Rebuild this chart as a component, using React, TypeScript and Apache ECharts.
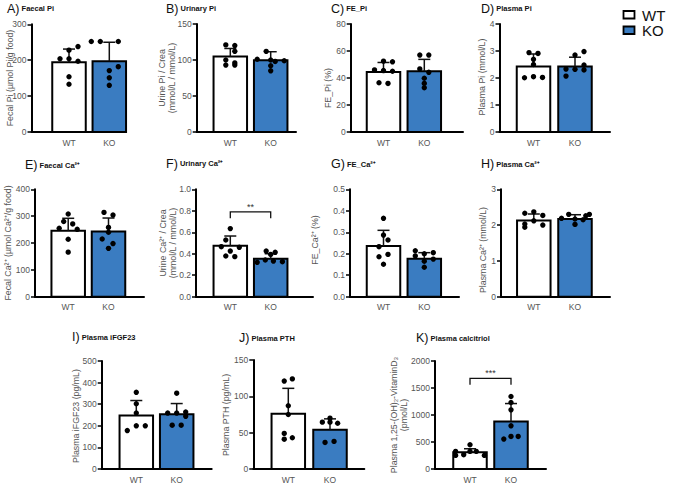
import React, { useEffect, useRef } from 'react';
import * as echarts from 'echarts';

// ---------------- DATA ----------------
const categories = ['WT', 'KO'];

// A) Faecal Pi
const faecalPiMean = [194, 197];
const faecalPiSD = [37, 53];
const faecalPiWT = [238, 228, 204, 204, 197, 154, 133];
const faecalPiKO = [252, 252, 252, 182, 171, 151, 130];
const faecalPiTicks = [0, 100, 200, 300];

// B) Urinary Pi
const urinaryPiMean = [105, 99.5];
const urinaryPiSD = [11, 12];
const urinaryPiWT = [121, 120, 112, 100, 96, 93, 93];
const urinaryPiKO = [112, 101, 100, 99, 98, 92, 85];
const urinaryPiTicks = [0, 50, 100, 150];

// C) FE_Pi
const fePiMean = [44.5, 45];
const fePiSD = [7, 8.8];
const fePiWT = [52.5, 52, 46, 45.5, 45, 36.5, 36];
const fePiKO = [57, 57, 46.7, 44.2, 39.8, 36, 32.8];
const fePiTicks = [0, 20, 40, 60, 80];

// D) Plasma Pi
const plasmaPiMean = [2.43, 2.43];
const plasmaPiSD = [0.46, 0.34];
const plasmaPiWT = [2.94, 2.91, 2.69, 2.5, 2.01, 2.05, 2.02];
const plasmaPiKO = [2.98, 2.85, 2.48, 2.33, 2.32, 2.3, 2.07];
const plasmaPiTicks = [0, 1, 2, 3, 4];

// E) Faecal Ca2+
const faecalCaMean = [246, 243];
const faecalCaSD = [46, 50];
const faecalCaWT = [308, 280, 271, 255, 251, 214, 166];
const faecalCaKO = [314, 304, 258, 240, 215, 198, 180];
const faecalCaTicks = [0, 100, 200, 300, 400];

// F) Urinary Ca2+
const urinaryCaMean = [0.475, 0.354];
const urinaryCaSD = [0.09, 0.046];
const urinaryCaWT = [0.634, 0.528, 0.466, 0.46, 0.425, 0.379, 0.373];
const urinaryCaKO = [0.425, 0.413, 0.394, 0.342, 0.332, 0.326, 0.32];
const urinaryCaTicks = [0, 0.2, 0.4, 0.6, 0.8, 1.0];
const urinaryCaSig = { level: 0.79, stars: '**' };

// G) FE_Ca2+
const feCaMean = [0.236, 0.177];
const feCaSD = [0.073, 0.028];
const feCaWT = [0.365, 0.287, 0.264, 0.233, 0.197, 0.186, 0.151];
const feCaKO = [0.214, 0.205, 0.2, 0.19, 0.175, 0.165, 0.137];
const feCaTicks = [0, 0.1, 0.2, 0.3, 0.4, 0.5];

// H) Plasma Ca2+
const plasmaCaMean = [2.13, 2.17];
const plasmaCaSD = [0.18, 0.12];
const plasmaCaWT = [2.33, 2.37, 2.27, 2.03, 2.12, 2.0, 1.94];
const plasmaCaKO = [2.19, 2.3, 2.17, 2.15, 2.3, 2.02, 2.26];
const plasmaCaTicks = [0, 1, 2, 3];

// I) Plasma iFGF23
const fgf23Mean = [248, 253];
const fgf23SD = [69, 50];
const fgf23WT = [355, 302, 259, 178, 200, 200];
const fgf23KO = [351, 259, 259, 264, 244, 203, 203];
const fgf23Ticks = [0, 100, 200, 300, 400, 500];

// J) Plasma PTH
const pthMean = [76, 54];
const pthSD = [35, 15];
const pthWT = [121, 124, 87, 75, 49, 41, 43];
const pthKO = [64.5, 64.5, 63, 70, 36.6, 38];
const pthTicks = [0, 50, 100, 150];

// K) Plasma calcitriol
const calcitriolMean = [308, 880];
const calcitriolSD = [67, 332];
const calcitriolWT = [449, 326, 265, 326, 326, 252, 252];
const calcitriolKO = [1342, 1231, 1095, 800, 554, 603, 603];
const calcitriolTicks = [0, 500, 1000, 1500, 2000];
const calcitriolSig = { level: 1680, stars: '***' };

// ---------------- PANEL DEFINITIONS ----------------
const panels = [
  { id: 'A', title: 'Faecal Pi', yName: 'Fecal Pi (µmol Pi/g food)', mean: faecalPiMean, sd: faecalPiSD, wt: faecalPiWT, ko: faecalPiKO, ticks: faecalPiTicks, dec: 0, sig: null },
  { id: 'B', title: 'Urinary Pi', yName: 'Urine Pi / Crea\n(mmol/L / mmol/L)', mean: urinaryPiMean, sd: urinaryPiSD, wt: urinaryPiWT, ko: urinaryPiKO, ticks: urinaryPiTicks, dec: 0, sig: null },
  { id: 'C', title: 'FE_Pi', yName: 'FE_Pi (%)', mean: fePiMean, sd: fePiSD, wt: fePiWT, ko: fePiKO, ticks: fePiTicks, dec: 0, sig: null },
  { id: 'D', title: 'Plasma Pi', yName: 'Plasma Pi (mmol/L)', mean: plasmaPiMean, sd: plasmaPiSD, wt: plasmaPiWT, ko: plasmaPiKO, ticks: plasmaPiTicks, dec: 0, sig: null },
  { id: 'E', title: 'Faecal Ca²⁺', yName: 'Fecal Ca²⁺ (µmol Ca²⁺/g food)', mean: faecalCaMean, sd: faecalCaSD, wt: faecalCaWT, ko: faecalCaKO, ticks: faecalCaTicks, dec: 0, sig: null },
  { id: 'F', title: 'Urinary Ca²⁺', yName: 'Urine Ca²⁺ / Crea\n(mmol/L / mmol/L)', mean: urinaryCaMean, sd: urinaryCaSD, wt: urinaryCaWT, ko: urinaryCaKO, ticks: urinaryCaTicks, dec: 1, sig: urinaryCaSig },
  { id: 'G', title: 'FE_Ca²⁺', yName: 'FE_Ca²⁺ (%)', mean: feCaMean, sd: feCaSD, wt: feCaWT, ko: feCaKO, ticks: feCaTicks, dec: 1, sig: null },
  { id: 'H', title: 'Plasma Ca²⁺', yName: 'Plasma Ca²⁺ (mmol/L)', mean: plasmaCaMean, sd: plasmaCaSD, wt: plasmaCaWT, ko: plasmaCaKO, ticks: plasmaCaTicks, dec: 0, sig: null },
  { id: 'I', title: 'Plasma iFGF23', yName: 'Plasma iFGF23 (pg/mL)', mean: fgf23Mean, sd: fgf23SD, wt: fgf23WT, ko: fgf23KO, ticks: fgf23Ticks, dec: 0, sig: null },
  { id: 'J', title: 'Plasma PTH', yName: 'Plasma PTH (pg/mL)', mean: pthMean, sd: pthSD, wt: pthWT, ko: pthKO, ticks: pthTicks, dec: 0, sig: null },
  { id: 'K', title: 'Plasma calcitriol', yName: 'Plasma 1,25-(OH)₂-VitaminD₃\n(pmol/L)', mean: calcitriolMean, sd: calcitriolSD, wt: calcitriolWT, ko: calcitriolKO, ticks: calcitriolTicks, dec: 0, sig: calcitriolSig },
];

// ---------------- LAYOUT (pixels) ----------------
// L/R: x-axis extent, top/bottom: y-axis extent, c0/c1: WT/KO bar centres,
// title: [x, y], name: [x, y] centre of rotated axis name, wtCol/koCol: dot columns
const layout: Record<string, any> = {
  A: { L: 31.5, R: 126, top: 24.3, bottom: 132, c0: 69, c1: 109.3, title: [7, 8.5], name: [10, 78], wtCol: [1, 0, -1, 0, 1, 0, 0], koCol: [-2, -1, 1, 1, 0, 0, 0] },
  B: { L: 196.7, R: 296, top: 24, bottom: 132, c0: 230.3, c1: 270.7, title: [166, 8.5], name: [166.5, 78], wtCol: [-0.5, 0.5, 0.5, -0.5, 0.5, -0.5, 0.5], koCol: [-0.5, -1.5, 0, 1.5, 0.5, 0, 0] },
  C: { L: 350.7, R: 463, top: 24, bottom: 132, c0: 383.5, c1: 424.3, title: [331, 8.5], name: [328, 88], wtCol: [0, 1, -1, 0, 1, -0.5, 0.5], koCol: [-0.5, 0.5, -0.5, 0.5, 0, 0, 0] },
  D: { L: 499.5, R: 610, top: 24, bottom: 132, c0: 533.5, c1: 575, title: [481, 8.5], name: [482, 77], wtCol: [-0.5, 0.5, 0, 0, -1, 0, 1], koCol: [1, 0, 1, -1, 0, 1, -1] },
  E: { L: 35, R: 144, top: 189.3, bottom: 296.7, c0: 68.2, c1: 108.5, title: [25, 165], name: [7.5, 243], wtCol: [0, -0.5, 0.5, -1, 1, 0, 0], koCol: [-0.5, 0.5, 0, 0, -0.7, 0.5, 0] },
  F: { L: 196, R: 313, top: 189.3, bottom: 296.7, c0: 230.3, c1: 270.7, title: [166, 163.5], name: [167.5, 243], wtCol: [0, -0.5, -1, 1, 0, -0.5, 0.5], koCol: [-0.5, 0.5, 0, -0.6, 0.3, 1.3, -1.5] },
  G: { L: 350, R: 459, top: 189.3, bottom: 296.7, c0: 383.5, c1: 424.3, title: [331, 164], name: [315, 240], wtCol: [0, 0, 0.5, -0.5, 0.5, -0.5, 0], koCol: [-1, 1, 0, -1, 1, 0, 0] },
  H: { L: 501, R: 610, top: 189.3, bottom: 296.7, c0: 533.8, c1: 575, title: [481, 164], name: [483, 250], wtCol: [-1, 0, 1, -1, 0, 1, -1], koCol: [-1.5, -0.7, 0, 0.9, 1.6, 0, 1.2] },
  I: { L: 101.7, R: 211.7, top: 361, bottom: 469.5, c0: 136.3, c1: 176.7, title: [72, 337], name: [76, 416], wtCol: [0, 0, 0, -1, 0, 1], koCol: [0, -1, 0, 1, 1, -0.5, 0.5] },
  J: { L: 253.3, R: 364.3, top: 360, bottom: 469.3, c0: 288.3, c1: 330, title: [239, 338], name: [226, 415], wtCol: [-0.45, 0.45, 0, 0, -0.45, -0.45, 0.45], koCol: [-0.85, 0, 0.85, 0, -0.55, 0.45] },
  K: { L: 435, R: 546, top: 361, bottom: 469.3, c0: 470, c1: 511, title: [416, 338], name: [399, 415], wtCol: [0, -1.6, -0.7, 0, 0.7, -1.6, 1.6], koCol: [0, 0, 0, 0, -0.8, 0, 0.8] },
};

const FONT = '"Liberation Sans", Arial, Helvetica, sans-serif';
const BLUE = '#3a7cc1';
const BAR_COLORS = ['#ffffff', BLUE];
const BAR_W = 33.5;
const COL_STEP = 9;
const CAP_HALF = 6;

function buildOption() {
  const grid: any[] = [];
  const xAxis: any[] = [];
  const yAxis: any[] = [];
  const series: any[] = [];
  const graphic: any[] = [];

  panels.forEach((p, i) => {
    const lay = layout[p.id];
    const unit = lay.c1 - lay.c0;
    grid.push({ left: lay.L, top: lay.top, width: lay.R - lay.L, height: lay.bottom - lay.top, containLabel: false });
    xAxis.push({
      type: 'value',
      gridIndex: i,
      min: (lay.L - lay.c0) / unit,
      max: (lay.R - lay.c0) / unit,
      splitLine: { show: false },
      axisTick: { show: false },
      axisLine: { show: true, onZero: false, lineStyle: { color: '#000', width: 2 } },
      axisLabel: {
        customValues: [0, 1],
        formatter: (v: number) => (v === 0 ? categories[0] : v === 1 ? categories[1] : ''),
        fontSize: 8.5,
        color: '#555',
        fontFamily: FONT,
        margin: 6,
      },
    });
    const t = p.ticks;
    yAxis.push({
      type: 'value',
      gridIndex: i,
      min: t[0],
      max: t[t.length - 1],
      interval: t[1] - t[0],
      splitLine: { show: false },
      axisLine: { show: true, onZero: false, lineStyle: { color: '#000', width: 2 } },
      axisTick: { show: true, length: 4, lineStyle: { color: '#000', width: 1.5 } },
      axisLabel: {
        fontSize: 8.5,
        color: '#555',
        fontFamily: FONT,
        margin: 5,
        formatter: (v: number) => v.toFixed(p.dec),
      },
    });

    // bars + error bars
    series.push({
      type: 'custom',
      xAxisIndex: i,
      yAxisIndex: i,
      z: 2,
      data: categories.map((_, k) => [k, p.mean[k], p.sd[k]]),
      renderItem: (params: any, api: any) => {
        const k = api.value(0);
        const m = api.value(1);
        const s = api.value(2);
        const base = api.coord([k, 0]);
        const top = api.coord([k, m]);
        const err = api.coord([k, m + s]);
        return {
          type: 'group',
          children: [
            {
              type: 'rect',
              shape: { x: base[0] - BAR_W / 2, y: top[1], width: BAR_W, height: base[1] - top[1] },
              style: { fill: BAR_COLORS[k], stroke: '#000', lineWidth: 2 },
            },
            {
              type: 'line',
              shape: { x1: top[0], y1: top[1], x2: err[0], y2: err[1] },
              style: { stroke: '#111', lineWidth: 1.5 },
            },
            {
              type: 'line',
              shape: { x1: err[0] - CAP_HALF, y1: err[1], x2: err[0] + CAP_HALF, y2: err[1] },
              style: { stroke: '#111', lineWidth: 1.5 },
            },
          ],
        };
      },
    });

    // individual points
    const dots: number[][] = [];
    p.wt.forEach((v, k) => dots.push([0, v, lay.wtCol[k] ?? 0]));
    p.ko.forEach((v, k) => dots.push([1, v, lay.koCol[k] ?? 0]));
    series.push({
      type: 'custom',
      xAxisIndex: i,
      yAxisIndex: i,
      z: 3,
      data: dots,
      renderItem: (params: any, api: any) => {
        const pt = api.coord([api.value(0), api.value(1)]);
        return {
          type: 'circle',
          shape: { cx: pt[0] + api.value(2) * COL_STEP, cy: pt[1], r: 2.7 },
          style: { fill: '#000' },
        };
      },
    });

    // significance bracket
    if (p.sig) {
      const sig = p.sig;
      series.push({
        type: 'custom',
        xAxisIndex: i,
        yAxisIndex: i,
        z: 4,
        data: [[0, sig.level, 1]],
        renderItem: (params: any, api: any) => {
          const a = api.coord([0, api.value(1)]);
          const b = api.coord([1, api.value(1)]);
          return {
            type: 'group',
            children: [
              {
                type: 'polyline',
                shape: { points: [[a[0], a[1] + 6.5], [a[0], a[1]], [b[0], b[1]], [b[0], b[1] + 6.5]] },
                style: { stroke: '#111', lineWidth: 1.3, fill: null },
              },
              {
                type: 'text',
                x: (a[0] + b[0]) / 2,
                y: a[1] - 5,
                style: { text: sig.stars, fontSize: 9, fontFamily: FONT, fill: '#333', align: 'center', verticalAlign: 'middle' },
              },
            ],
          };
        },
      });
    }

    // panel title
    graphic.push({
      type: 'text',
      x: lay.title[0],
      y: lay.title[1],
      style: {
        text: `{a|${p.id})}{b| ${p.title}}`,
        verticalAlign: 'middle',
        rich: {
          a: { fontSize: 12.5, fontFamily: FONT, fill: '#111' },
          b: { fontSize: 7.5, fontWeight: 'bold', fontFamily: FONT, fill: '#111' },
        },
      },
    });

    // rotated y-axis name
    graphic.push({
      type: 'text',
      x: lay.name[0],
      y: lay.name[1],
      rotation: Math.PI / 2,
      style: {
        text: p.yName,
        fontSize: 8.8,
        lineHeight: 10,
        fontFamily: FONT,
        fill: '#555',
        align: 'center',
        verticalAlign: 'middle',
      },
    });
  });

  // legend
  graphic.push(
    { type: 'rect', shape: { x: 623.5, y: 11, width: 11, height: 7.5 }, style: { fill: '#fff', stroke: '#000', lineWidth: 1.8 } },
    { type: 'text', x: 642, y: 15, style: { text: categories[0], fontSize: 15, fontFamily: FONT, fill: '#111', verticalAlign: 'middle' } },
    { type: 'rect', shape: { x: 623.5, y: 26.5, width: 11, height: 7.5 }, style: { fill: BLUE, stroke: '#000', lineWidth: 1.8 } },
    { type: 'text', x: 642, y: 30.5, style: { text: categories[1], fontSize: 15, fontFamily: FONT, fill: '#111', verticalAlign: 'middle' } },
  );

  return {
    animation: false,
    backgroundColor: '#ffffff',
    textStyle: { fontFamily: FONT },
    grid,
    xAxis,
    yAxis,
    series,
    graphic,
  };
}

export default function App() {
  const ref = useRef<HTMLDivElement>(null);
  useEffect(() => {
    document.body.style.margin = '0';
    if (!ref.current) return;
    const chart = echarts.init(ref.current, null, { renderer: 'svg' });
    chart.setOption(buildOption() as any);
    return () => chart.dispose();
  }, []);
  return <div ref={ref} style={{ width: 676, height: 484 }} />;
}
